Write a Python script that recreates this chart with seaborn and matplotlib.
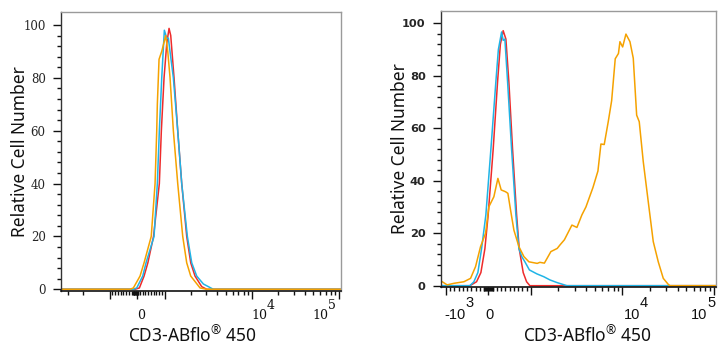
import numpy as np
import pandas as pd
import matplotlib
matplotlib.use("Agg")
import matplotlib.pyplot as plt
import seaborn as sns
from matplotlib.ticker import FixedLocator, NullFormatter

# ---------------- data (fluorescence channel values vs relative cell number) ----------------
# Left panel
left_red_x = [-3600, -73, 85, 255, 393, 600, 811, 884, 982, 1060, 1126, 1177, 1284, 1415, 1572, 1793, 1993, 2231, 2660, 3035, 103000]
left_red_y = [0, 0, 0.5, 5, 10, 20, 40, 60, 80, 93, 98.7, 96, 80, 60, 40, 20, 10, 5, 1, 0, 0]
left_cyan_x = [-3600, -134, -12, 207, 327, 618, 738, 811, 898, 993, 1060, 1105, 1261, 1415, 1572, 1823, 2047, 2333, 2780, 3613, 103000]
left_cyan_y = [0, 0, 0.5, 5, 10, 20, 40, 60, 80, 98, 95, 95, 80, 60, 40, 20, 10, 5, 2, 0, 0]
left_orange_x = [-3600, -255, -134, 109, 255, 516, 655, 716, 738, 800, 898, 1032, 1088, 1156, 1261, 1415, 1614, 1793, 1993, 2546, 3035, 103000]
left_orange_y = [0, 0, 0.5, 5, 10, 20, 40, 60, 70, 87, 90, 96, 90, 80, 60, 40, 20, 10, 5, 0.5, 0, 0]

# Right panel
right_red_x = [-1130, -435, -278, -176, -82, -5, 113, 216, 282, 348, 412, 482, 569, 664, 725, 819, 899, 976, 105000]
right_red_y = [0, 0, 1.5, 5, 14.1, 27, 52, 77.7, 92, 97.2, 94, 77.7, 52, 27, 14.1, 5, 1.5, 0, 0]
right_cyan_x = [-1130, -435, -341, -247, -160, -59, 59, 176, 235, 311, 348, 388, 452, 546, 647, 718, 788, 859, 965, 1163, 1387, 1613, 1924, 2474, 105000]
right_cyan_y = [0, 0, 1.5, 5, 14.1, 27, 52, 77.7, 90, 96.7, 93.5, 94, 77.7, 52, 27, 14.1, 11, 9.1, 6, 4.5, 3.4, 2.2, 1.2, 0, 0]
right_orange_x = [-1130, -969, -812, -576, -419, -301, -184, -66, 12, 129, 224, 301, 405, 459, 522, 600, 718, 835, 953,
                  1172, 1254, 1404, 1654, 1939, 2075, 2323, 2806, 3183, 3609, 3991, 4761, 5398, 5821, 6324, 6996, 7621,
                  8343, 9043, 9390, 10050, 10920, 12080, 13130, 14300, 15260, 16880, 19140, 21710, 24620, 27920, 31660,
                  33040, 105000]
right_orange_y = [1.8, 0.3, 0.9, 1.5, 2.8, 7.3, 14.9, 20.0, 30.1, 33.9, 40.9, 36.5, 35.8, 35.2, 28.8, 21.2, 14.9, 11.1, 9.1,
                  8.5, 8.9, 8.6, 13.0, 14.2, 15.5, 17.5, 23.1, 22.2, 27.0, 30.0, 37.4, 43.7, 54.0, 53.8, 62.5, 70.5,
                  86.5, 88.5, 93.0, 91.0, 95.9, 93.0, 86.7, 65.0, 62.5, 47.3, 32.0, 16.8, 9.1, 2.8, 0.5,
                  0.0, 0.0]

samples = ["red", "cyan", "orange"]
colors = {"red": "#EE2B2B", "cyan": "#20B4E6", "orange": "#F5A200"}

x_major = [-1000, 0, 1000, 10000, 100000]
y_major = [0, 20, 40, 60, 80, 100]
y_minor = [v for v in range(0, 101, 4) if v % 20 != 0]
x_label_text = r"CD3-ABflo$^{\mathregular{®}}$ 450"
y_label_text = "Relative Cell Number"


def frame(xs, ys):
    parts = []
    for name, x, y in zip(samples, xs, ys):
        parts.append(pd.DataFrame({"x": x, "y": y, "sample": name}))
    return pd.concat(parts, ignore_index=True)


df_left = frame([left_red_x, left_cyan_x, left_orange_x], [left_red_y, left_cyan_y, left_orange_y])
df_right = frame([right_red_x, right_cyan_x, right_orange_x], [right_red_y, right_cyan_y, right_orange_y])

sns.set_theme(style="white")
plt.rcParams["font.family"] = ["DejaVu Sans"]

fig = plt.figure(figsize=(7.27, 3.5), dpi=100)
axL = fig.add_axes([61 / 727, 1 - 290.6 / 350, 279.5 / 727, 278.6 / 350])
axR = fig.add_axes([441 / 727, 1 - 287 / 350, 275 / 727, 276 / 350])

for ax, df, linscale, xlim, ylim in [
    (axL, df_left, 0.283, (-3590, 102800), (-0.5, 104.9)),
    (axR, df_right, 0.418, (-1130, 105200), (-0.5, 104.7)),
]:
    ax.set_xscale("symlog", linthresh=1000, linscale=linscale)
    sns.lineplot(data=df, x="x", y="y", hue="sample", hue_order=samples, palette=colors,
                 estimator=None, sort=False, lw=1.1, legend=False, ax=ax)
    ax.set_xlim(*xlim)
    ax.set_ylim(*ylim)
    for side in ["top", "right"]:
        ax.spines[side].set_color("#9a9a9a")
        ax.spines[side].set_linewidth(1.0)
    ax.spines["left"].set_color("#333333")
    ax.spines["bottom"].set_color("#111111")
    ax.spines["left"].set_linewidth(1.0)
    ax.spines["bottom"].set_linewidth(1.2)
    ax.set_xticks(x_major)
    ax.set_xticklabels([])
    ax.set_yticks(y_major)
    ax.yaxis.set_minor_locator(FixedLocator(y_minor))
    ax.tick_params(axis="both", which="major", direction="out", length=6, width=1.0, color="#111111",
                   bottom=True, left=True)
    ax.tick_params(axis="both", which="minor", direction="out", length=2.6, width=1.0, color="#111111",
                   bottom=True, left=True)
    ax.tick_params(axis="y", which="major", pad=5)
    ax.set_xlabel("")
    ax.set_ylabel("")

# minor x ticks
lin_minor = [v for v in range(-900, 1000, 100) if v != 0]
log_minor = [m * 10 ** e for e in (3, 4) for m in range(2, 10)]
axL.xaxis.set_minor_locator(FixedLocator([-3000, -2000] + lin_minor + list(range(-150, 75, 25)) + log_minor))
axR.xaxis.set_minor_locator(FixedLocator(lin_minor + list(range(-100, 120, 20)) + log_minor))
for ax in (axL, axR):
    ax.xaxis.set_minor_formatter(NullFormatter())

# y tick labels
axL.set_yticklabels([str(v) for v in y_major], fontfamily="DejaVu Serif", fontsize=8.5)
axR.set_yticklabels([str(v) for v in y_major], fontfamily="DejaVu Sans", fontweight="bold", fontsize=8.2)


# x tick labels (positioned individually, as in the reference)
def xtext(ax, value, text, dx_px, dy_px, family, size, ha):
    ax.annotate(text, xy=(value, 0), xycoords=("data", "axes fraction"),
                xytext=(dx_px * 0.72, -dy_px * 0.72), textcoords="offset points",
                ha=ha, va="baseline", fontfamily=family, fontsize=size, color="#111111")


def xpow(ax, value, base, exp, dx_base, dx_exp, dy, rise, family, size):
    xtext(ax, value, base, dx_base, dy, family, size, "right")
    xtext(ax, value, exp, dx_exp, dy - rise, family, size, "left")


xtext(axL, 0, "0", 3.7, 28.4, "DejaVu Serif", 9, "center")
xpow(axL, 10000, "10", "4", 15, 14.5, 28.4, 10, "DejaVu Serif", 9)
xpow(axL, 100000, "10", "5", -11, -11.5, 28.4, 10, "DejaVu Serif", 9)

xpow(axR, -1000, "-10", "3", 19.5, 19.5, 32, 12, "Liberation Sans", 10.5)
xtext(axR, 0, "0", 1.5, 32, "Liberation Sans", 10.5, "center")
xpow(axR, 10000, "10", "4", 17.5, 17.5, 32, 12, "Liberation Sans", 10.5)
xpow(axR, 100000, "10", "5", -7, -7, 32, 12, "Liberation Sans", 10.5)

# axis labels
for ax, xc, xtop, yx in [(axL, 0.47, -0.127, -0.115), (axR, 0.531, -0.141, -0.116)]:
    ax.set_xlabel(x_label_text, fontfamily="Noto Sans", fontsize=12.5, color="#111111")
    ax.set_ylabel(y_label_text, fontfamily="Noto Sans", fontsize=12.5, color="#111111")
    ax.xaxis.set_label_coords(xc, xtop)
    ax.yaxis.set_label_coords(yx, 0.5)

fig.savefig("out.png", dpi=100, facecolor="white")
